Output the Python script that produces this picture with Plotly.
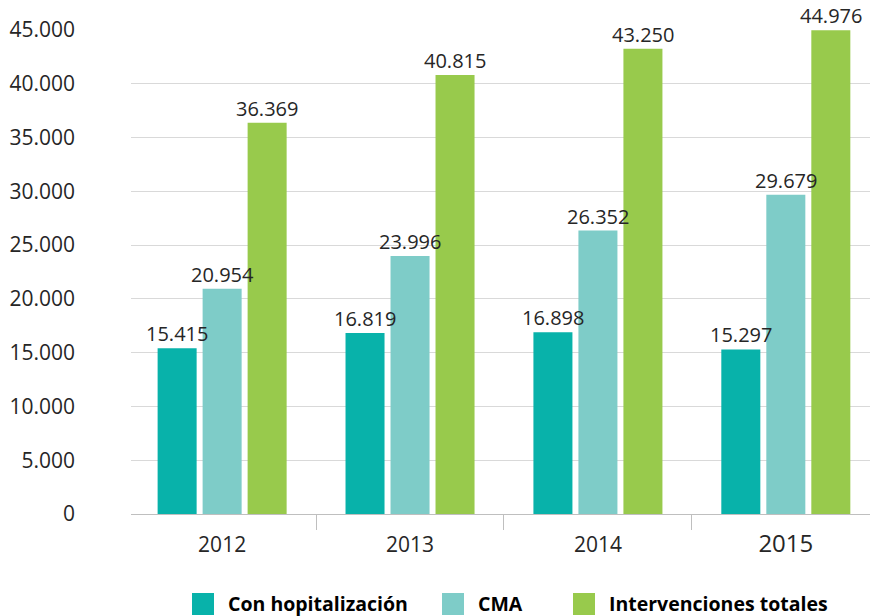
import plotly.graph_objects as go

years = ["2012", "2013", "2014", "2015"]
con_hosp = [15415, 16819, 16898, 15297]
cma = [20954, 23996, 26352, 29679]
totales = [36369, 40815, 43250, 44976]
y_ticks = [0, 5000, 10000, 15000, 20000, 25000, 30000, 35000, 40000, 45000]
y_tick_labels = ["0", "5.000", "10.000", "15.000", "20.000", "25.000", "30.000", "35.000", "40.000", "45.000"]
year_labels = ["2012", "2013", "2014", "<span style='font-size:24px'>2015</span>"]
series_names = ["Con hopitalización", "CMA", "Intervenciones totales"]
series_colors = ["#08B2AA", "#7ECCC8", "#98CA4C"]


def fmt(v):
    return f"{v:,}".replace(",", ".")


FONT = "Open Sans"
W, H = 870, 616
ML, MR, MT, MB = 131, 0, 30, 616 - 514
PW, PH = W - ML - MR, H - MT - MB


def px_x(sx):  # pixel x -> paper x
    return (sx - ML) / PW


def px_y(sy):  # pixel y -> paper y
    return (H - MB - sy) / PH


BAR_SLOT = 45  # pixel spacing of bars inside a group
fig = go.Figure()
annos = []
for i, (name, vals, col) in enumerate(zip(series_names, [con_hosp, cma, totales], series_colors)):
    fig.add_trace(go.Bar(
        x=years, y=vals, name=name,
        marker=dict(color=col, line=dict(width=0)),
        showlegend=False, hoverinfo="x+y+name",
    ))
    for j, v in enumerate(vals):
        annos.append(dict(
            x=j, y=v, xref="x", yref="y", xshift=(i - 1) * BAR_SLOT, yshift=0,
            xanchor="center", yanchor="bottom", showarrow=False, borderpad=0,
            text=fmt(v), font=dict(size=20, color="#262626", family=FONT),
        ))

# custom legend (large square swatches like the original)
legend_sq_x = [192, 442, 573]
legend_txt_x = [227, 477, 608]
sq_top, sq_bot = 593, 615
shapes = []
for sx, tx, name, col in zip(legend_sq_x, legend_txt_x, series_names, series_colors):
    shapes.append(dict(
        type="rect", xref="paper", yref="paper",
        x0=px_x(sx), x1=px_x(sx + 22), y0=px_y(sq_bot), y1=px_y(sq_top),
        fillcolor=col, line=dict(width=0), layer="above",
    ))
    annos.append(dict(
        xref="paper", yref="paper", x=px_x(tx), y=px_y(603),
        xanchor="left", yanchor="middle", showarrow=False, borderpad=0,
        text=f"<b>{name}</b>", font=dict(size=19.5, color="#000000", family=FONT),
    ))

fig.update_layout(
    width=W, height=H,
    margin=dict(l=ML, r=MR, t=MT, b=MB),
    paper_bgcolor="white", plot_bgcolor="white",
    barmode="group", bargap=0.2815, bargroupgap=0.133,
    font=dict(family=FONT, size=20, color="#262626"),
    showlegend=False,
    shapes=shapes, annotations=annos,
)
fig.update_xaxes(
    type="category", range=[-0.485, 3.448], automargin=False,
    tickvals=years, ticktext=year_labels,
    showline=True, linecolor="#bfbfbf", linewidth=1,
    ticks="outside", tickson="boundaries", ticklen=15, tickcolor="#bfbfbf",
    ticklabelstandoff=12,
    showgrid=False, tickfont=dict(size=21, color="#262626"),
)
fig.update_yaxes(
    range=[0, 45000], tickvals=y_ticks, ticktext=y_tick_labels, automargin=False,
    showgrid=True, gridcolor="#d9d9d9", gridwidth=1,
    showline=False, zeroline=False, ticks="",
    ticklabelstandoff=55, tickfont=dict(size=21, color="#262626"),
)

# remove the browser's default 8px body margin so the figure fills the window
fig.write_html("out.html", config={"displayModeBar": False},
               post_script="document.body.style.margin='0px';")
